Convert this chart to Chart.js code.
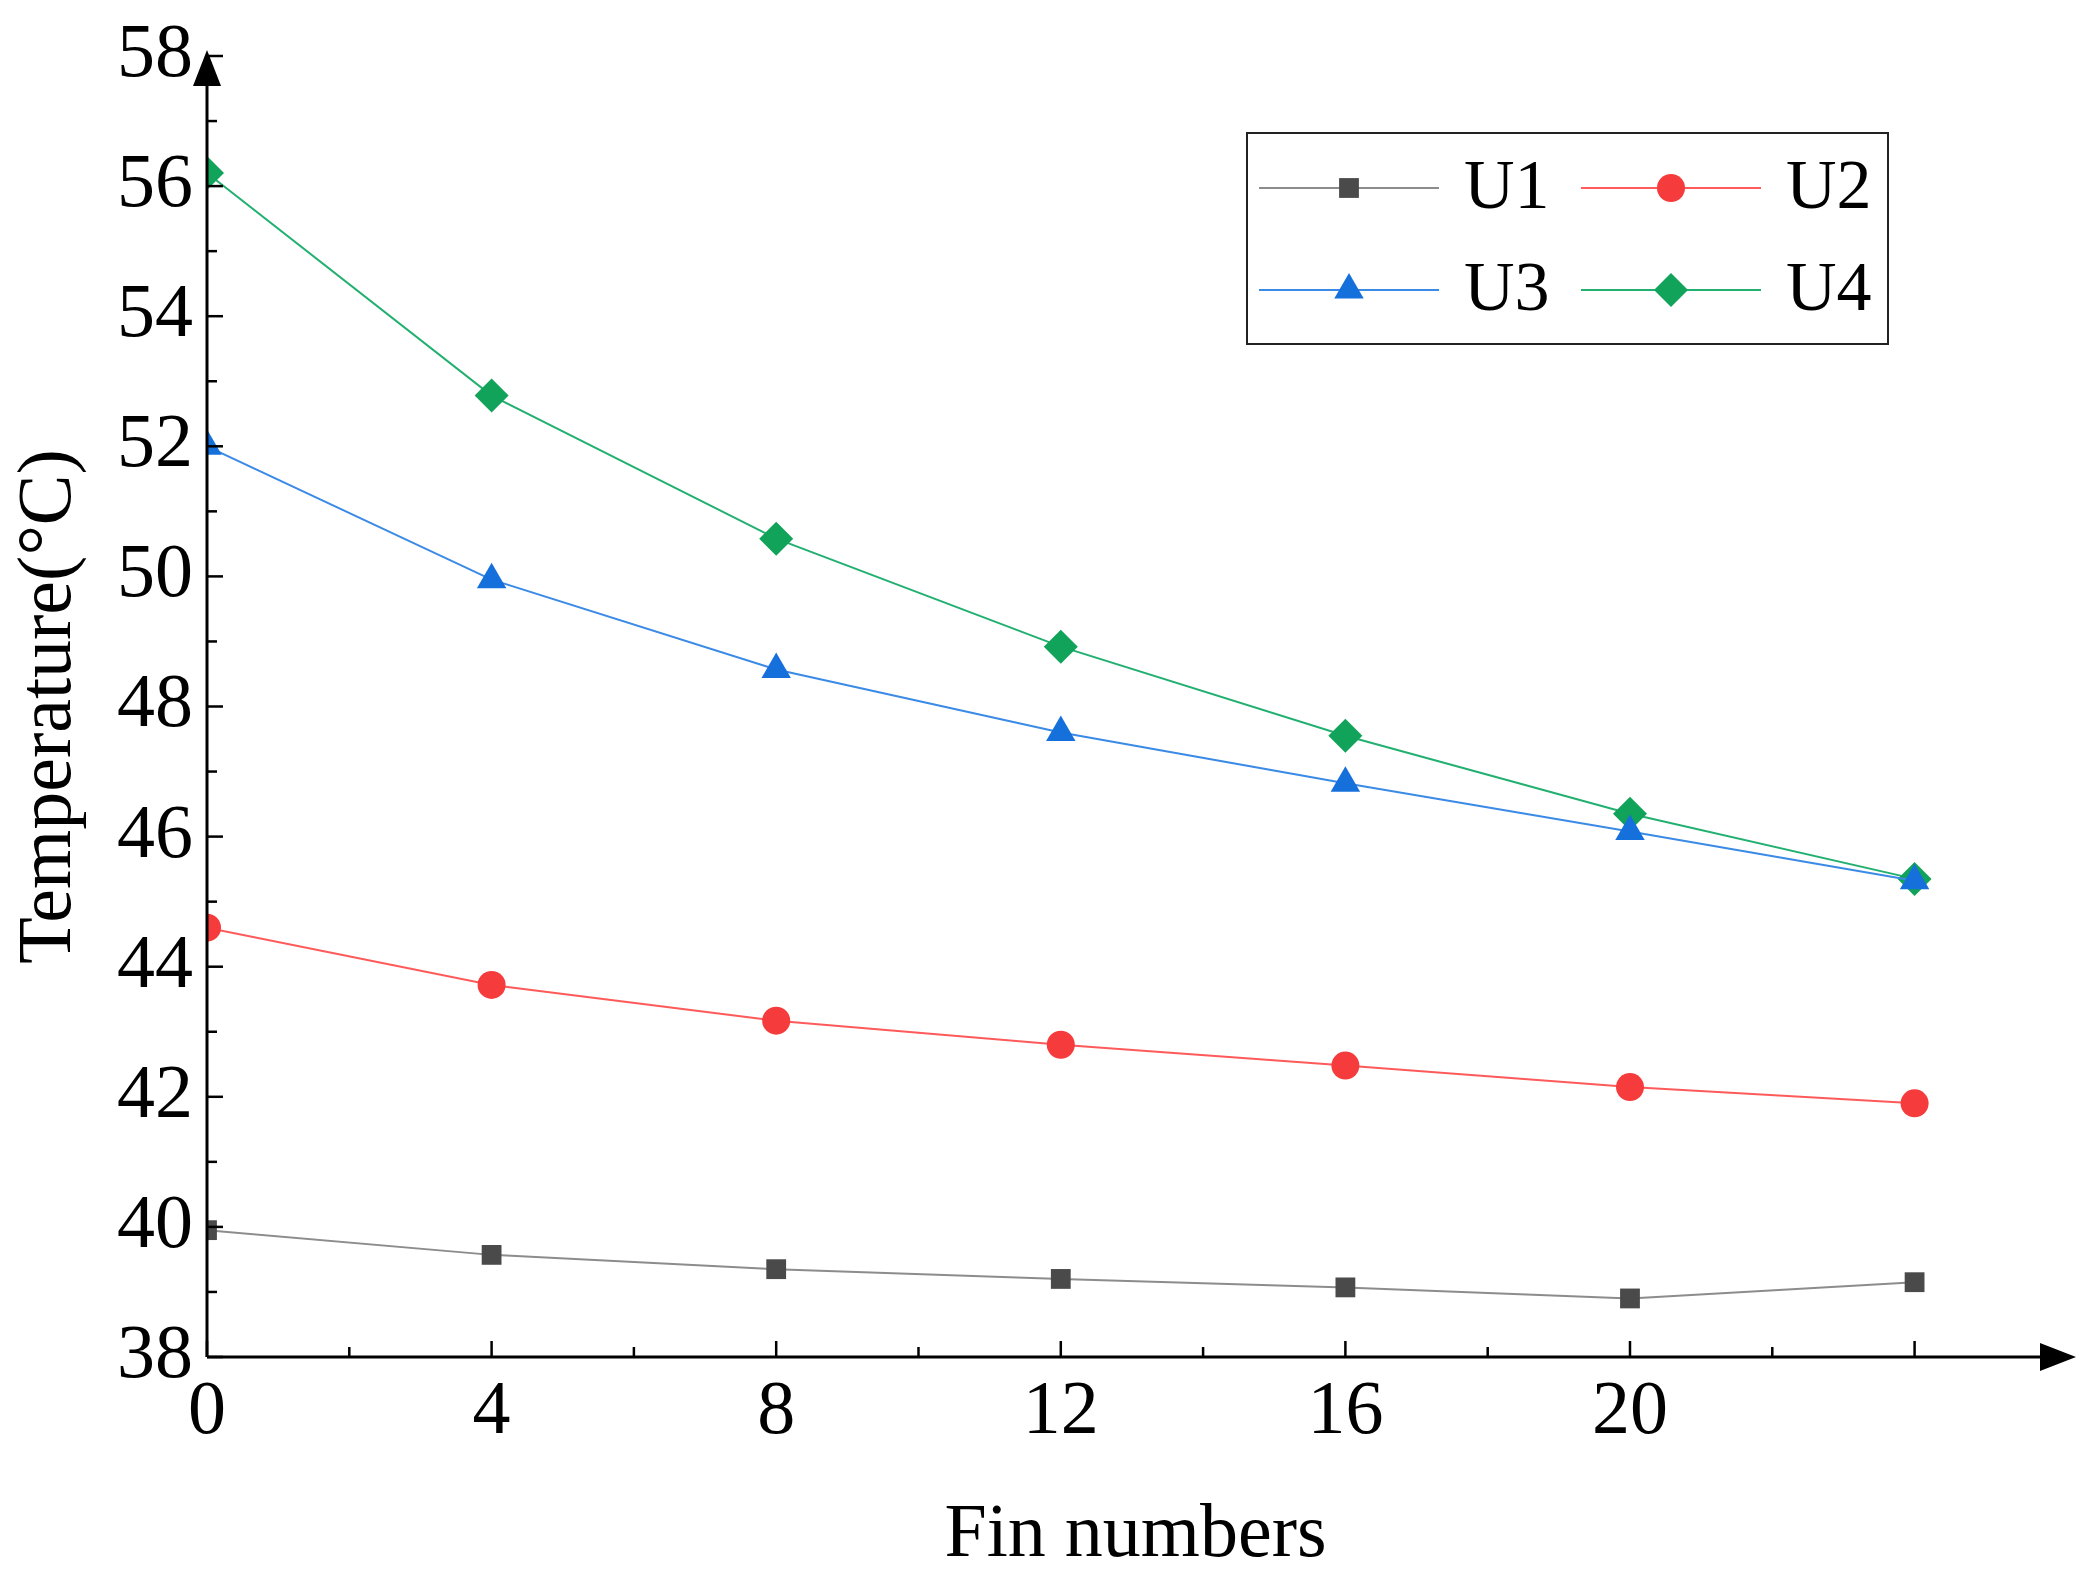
<!DOCTYPE html>
<html><head><meta charset="utf-8">
<script src="https://cdn.jsdelivr.net/npm/chart.js@4/dist/chart.umd.min.js"></script>
<style>html,body{margin:0;background:#fff}#c{display:block}</style>
</head><body>
<canvas id="c" width="2081" height="1586"></canvas>
<script>
const finNumbers = [0, 4, 8, 12, 16, 20, 24];
const u1 = [39.95, 39.57, 39.35, 39.2, 39.07, 38.9, 39.15];
const u2 = [44.6, 43.72, 43.17, 42.8, 42.48, 42.15, 41.9];
const u3 = [52.0, 49.95, 48.57, 47.6, 46.82, 46.08, 45.32];
const u4 = [56.2, 52.78, 50.58, 48.92, 47.55, 46.35, 45.35];
const seriesNames = ['U1', 'U2', 'U3', 'U4'];

const FONT = "'Liberation Serif', 'Times New Roman', serif";
const pts = arr => arr.map((v, i) => ({ x: finNumbers[i], y: v }));

const styles = [
  { line: '#8c8c8c', fill: '#4a4a4a', shape: 'rect', r: 14 },
  { line: '#ff5a5a', fill: '#f53b3b', shape: 'circle', r: 14 },
  { line: '#3a8ae6', fill: '#1670dc', shape: 'triangle', r: 17 },
  { line: '#22b070', fill: '#12a35a', shape: 'rectRot', r: 17 }
];
const allData = [u1, u2, u3, u4];

// axes with inward ticks, arrows, legend box
const decor = {
  id: 'decor',
  afterDraw(chart) {
    const { ctx, chartArea: a, scales: { x, y } } = chart;
    ctx.save();
    ctx.strokeStyle = '#000'; ctx.fillStyle = '#000'; ctx.lineWidth = 3;
    ctx.beginPath();
    ctx.moveTo(a.left, a.bottom); ctx.lineTo(2050, a.bottom);
    ctx.moveTo(a.left, a.bottom); ctx.lineTo(a.left, 70);
    ctx.stroke();
    ctx.beginPath();
    ctx.moveTo(2076, a.bottom); ctx.lineTo(2040, a.bottom - 14); ctx.lineTo(2040, a.bottom + 14); ctx.fill();
    ctx.beginPath();
    ctx.moveTo(a.left, 50); ctx.lineTo(a.left - 14, 86); ctx.lineTo(a.left + 14, 86); ctx.fill();
    ctx.lineWidth = 2.5;
    for (let v = 0; v <= 24; v += 2) {
      const px = x.getPixelForValue(v);
      const len = v % 4 === 0 ? 16 : 10;
      ctx.beginPath(); ctx.moveTo(px, a.bottom); ctx.lineTo(px, a.bottom - len); ctx.stroke();
    }
    for (let v = 38; v <= 58; v += 1) {
      const py = y.getPixelForValue(v);
      const len = v % 2 === 0 ? 16 : 10;
      ctx.beginPath(); ctx.moveTo(a.left, py); ctx.lineTo(a.left + len, py); ctx.stroke();
    }
    // legend
    const lx = 1247, ly = 133, lw = 641, lh = 211;
    ctx.lineWidth = 2; ctx.strokeStyle = '#222';
    ctx.strokeRect(lx, ly, lw, lh);
    ctx.font = '70px ' + FONT; ctx.textBaseline = 'middle';
    seriesNames.forEach((n, i) => {
      const cx = lx + 12 + (i % 2) * 322;
      const cy = ly + 55 + Math.floor(i / 2) * 102;
      const s = styles[i];
      ctx.strokeStyle = s.line; ctx.lineWidth = 2;
      ctx.beginPath(); ctx.moveTo(cx, cy); ctx.lineTo(cx + 180, cy); ctx.stroke();
      ctx.fillStyle = s.fill;
      Chart.helpers.drawPoint(ctx, { pointStyle: s.shape, radius: s.r, borderWidth: 0 }, cx + 90, cy);
      ctx.fillStyle = '#000';
      ctx.fillText(n, cx + 205, cy + 2);
    });
    ctx.restore();
  }
};

new Chart(document.getElementById('c'), {
  type: 'line',
  data: {
    datasets: allData.map((d, i) => ({
      label: seriesNames[i],
      data: pts(d),
      borderColor: styles[i].line,
      backgroundColor: styles[i].fill,
      pointBackgroundColor: styles[i].fill,
      pointBorderWidth: 0,
      pointStyle: styles[i].shape,
      pointRadius: styles[i].r,
      borderWidth: 2,
      tension: 0
    }))
  },
  options: {
    responsive: false,
    animation: false,
    layout: { padding: { top: 56, right: 0, left: 0, bottom: 0 } },
    plugins: { legend: { display: false }, tooltip: { enabled: false } },
    scales: {
      x: {
        type: 'linear', min: 0, max: 26.1,
        afterFit(s) { s.height = 229; },
        border: { display: false },
        grid: { display: false },
        ticks: {
          stepSize: 4, color: '#000', font: { size: 76, family: FONT }, padding: 2,
          callback: v => (v <= 24 ? v : '')
        },
        title: { display: true, text: 'Fin numbers', color: '#000', font: { size: 76, family: FONT }, padding: { top: 22 } }
      },
      y: {
        min: 38, max: 58,
        afterFit(s) { s.width = 207; },
        border: { display: false },
        grid: { display: false },
        ticks: { stepSize: 2, color: '#000', font: { size: 76, family: FONT }, padding: 6 },
        title: { display: true, text: 'Temperature(°C)', color: '#000', font: { size: 76, family: FONT }, padding: { bottom: 0 } }
      }
    }
  },
  plugins: [decor]
});
</script>
</body></html>
